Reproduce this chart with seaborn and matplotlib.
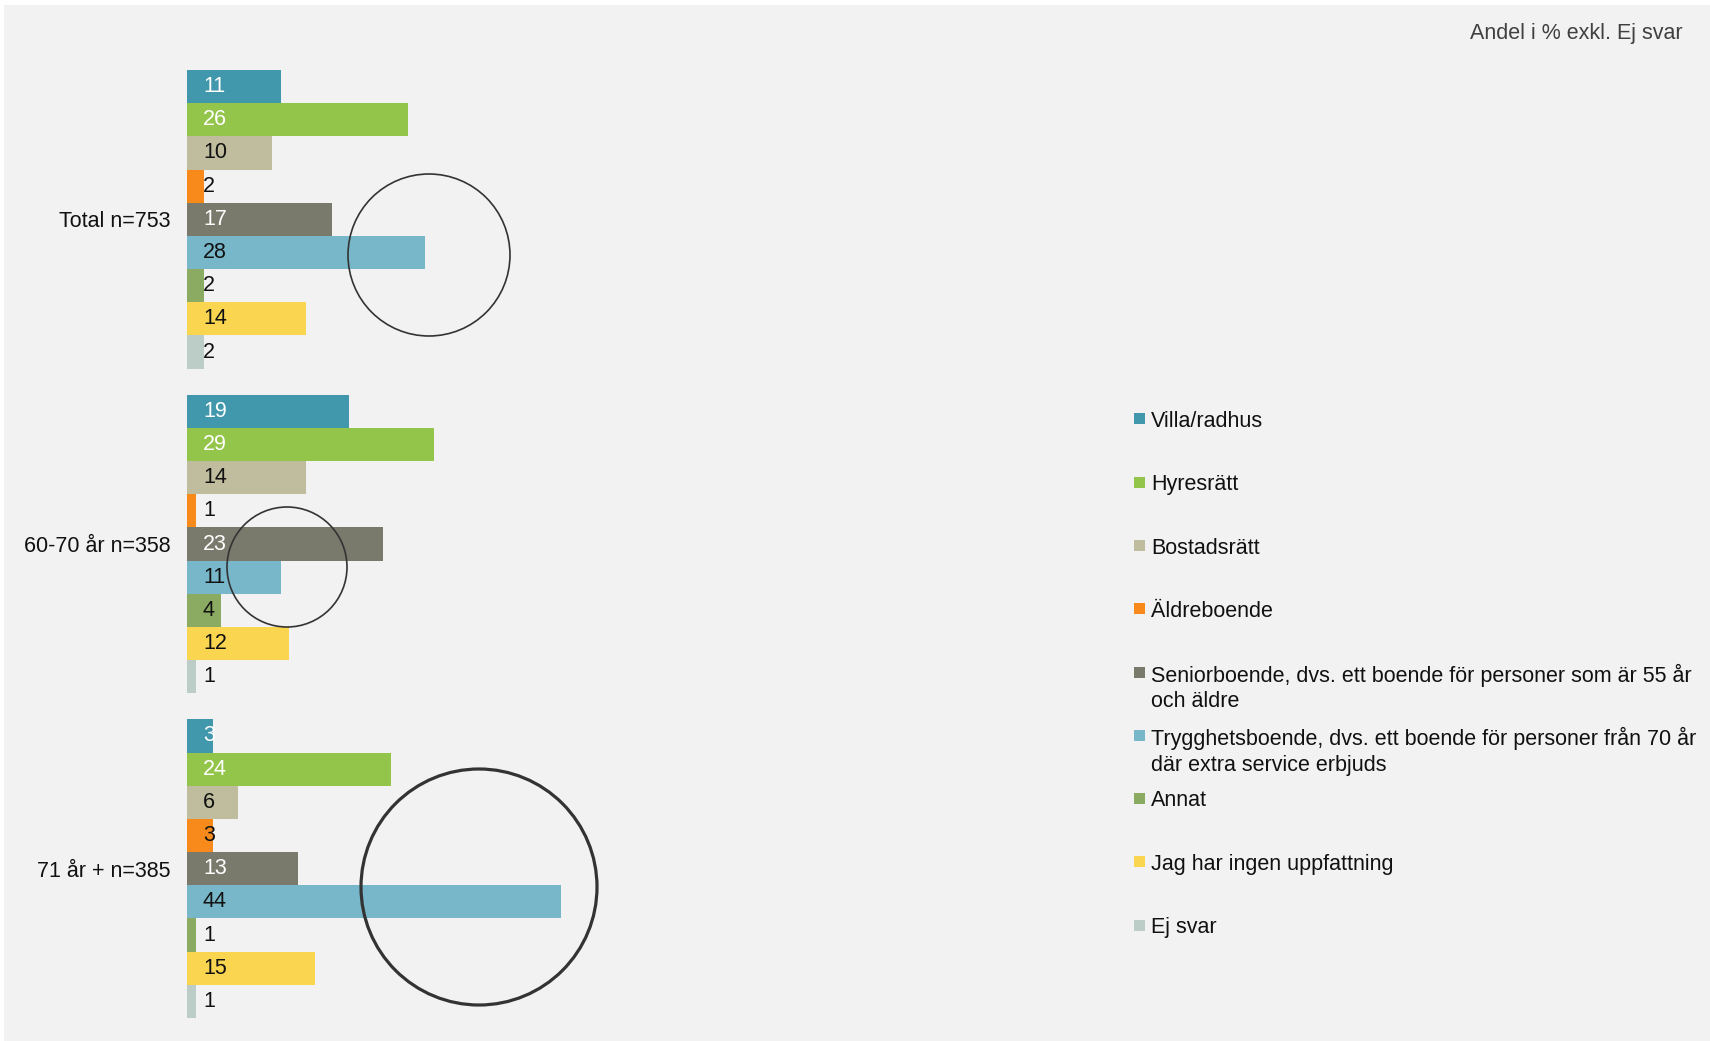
import pandas as pd
import seaborn as sns
import matplotlib
matplotlib.use("Agg")
import matplotlib.pyplot as plt
from matplotlib.patches import Rectangle, Ellipse

plt.rcParams['font.family'] = ['Liberation Sans', 'DejaVu Sans']

groups = ["Total n=753", "60-70 år n=358", "71 år + n=385"]
categories = [
    "Villa/radhus",
    "Hyresrätt",
    "Bostadsrätt",
    "Äldreboende",
    "Seniorboende, dvs. ett boende för personer som är 55 år\noch äldre",
    "Trygghetsboende, dvs. ett boende för personer från 70 år\ndär extra service erbjuds",
    "Annat",
    "Jag har ingen uppfattning",
    "Ej svar",
]
total = [11, 26, 10, 2, 17, 28, 2, 14, 2]
age_60_70 = [19, 29, 14, 1, 23, 11, 4, 12, 1]
age_71 = [3, 24, 6, 3, 13, 44, 1, 15, 1]
colors = ["#4198AC", "#93C54B", "#BFBD9D", "#F88A1C", "#797A6C",
          "#77B7C9", "#8BAA62", "#FAD54F", "#BCCCC6"]
white_label = [True, True, False, False, True, False, False, False, False]

rows = []
for g, vals in zip(groups, [total, age_60_70, age_71]):
    for c, v in zip(categories, vals):
        rows.append({"group": g, "category": c, "value": v})
df = pd.DataFrame(rows)

W, H = 1710, 1041
FS = 15.5
fig = plt.figure(figsize=(W / 100, H / 100), dpi=100, facecolor="white")
fig.add_artist(Rectangle((4 / W, 0), 1, 1 - 5 / H, transform=fig.transFigure,
                         facecolor="#F2F2F2", edgecolor="none", zorder=0))

ax = fig.add_axes([187 / W, (H - 1018) / H, 850 / W, 948 / H])
ax.set_facecolor("none")
sns.barplot(data=df, y="group", x="value", hue="category", order=groups,
            hue_order=categories, palette=colors, saturation=1, width=0.92,
            linewidth=0, orient="h", legend=False, ax=ax)
ax.set_xlim(0, 100)
ax.set_ylim(2.46, -0.46)
for s in ax.spines.values():
    s.set_visible(False)
ax.set_xticks([])
ax.set_xlabel("")
ax.set_ylabel("")
ax.tick_params(axis="y", length=0, pad=12, labelsize=FS, labelcolor="#111111")

# value labels near the start of each bar
for i, cont in enumerate(ax.containers):
    for bar in cont:
        yc = bar.get_y() + bar.get_height() / 2
        ax.annotate(f"{bar.get_width():.0f}", xy=(0, yc), xytext=(11.5, 0),
                    textcoords="offset points", va="center", ha="left", fontsize=FS,
                    color="white" if white_label[i] else "#111111")

# legend drawn by hand
for i, (c, col) in enumerate(zip(categories, colors)):
    yc = 419 + i * 63.25
    fig.add_artist(Rectangle((1134 / W, 1 - (yc + 5.5) / H), 11 / W, 11 / H,
                             transform=fig.transFigure, facecolor=col, edgecolor="none"))
    fig.text(1151 / W, 1 - (yc - 8) / H, c, fontsize=FS, va="top", ha="left",
             color="#111111", linespacing=1.27)

fig.text(1683 / W, 1 - 33 / H, "Andel i % exkl. Ej svar", fontsize=FS,
         ha="right", va="center", color="#404040")

# highlight circles
for cx, cy, r, lw in [(429, 255, 81, 1.2), (287, 567, 60, 1.2), (479, 887, 118, 2.3)]:
    fig.add_artist(Ellipse((cx / W, 1 - cy / H), 2 * r / W, 2 * r / H,
                           transform=fig.transFigure, fill=False,
                           edgecolor="#333333", linewidth=lw, zorder=5))

fig.savefig("out.png", dpi=100)
